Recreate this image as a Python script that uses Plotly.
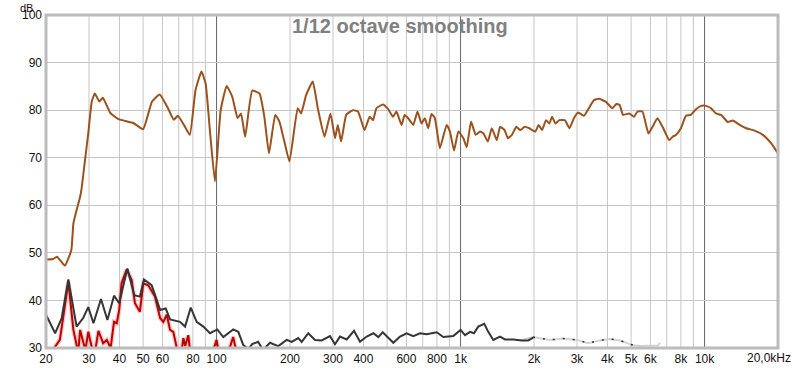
import plotly.graph_objects as go
import math

# ---- Data ----
brown_f = [20, 21.4, 22.2, 23.9, 25.4, 25.9, 26.7, 27.6, 28.0, 28.9, 29.8, 30.8, 31.7, 33.1, 34.2,
           36.7, 39.6, 45.6, 50.0, 54.4, 58.5, 62.8, 66.8, 69.4, 73.5, 77.7, 82.0, 86.7, 90.2, 94.0,
           98.5, 104, 110, 116, 122, 126, 131, 140, 150, 157, 164, 174, 181, 189, 199,
           215, 222, 233, 248, 260, 277, 293, 306, 314, 324, 340, 362, 380, 404, 424,
           438, 452, 481, 505, 529, 546, 573, 590, 610, 640, 666, 692, 714, 737, 760,
           785, 823, 877, 905, 940, 980, 1027, 1060, 1104, 1154, 1203, 1242, 1294, 1343, 1408,
           1452, 1515, 1563, 1624, 1692, 1757, 1831, 1912, 2025, 2090, 2158, 2240, 2312, 2371, 2448,
           2542, 2675, 2795, 2914, 3035, 3204, 3337, 3522, 3693, 3931, 4188, 4351, 4488, 4634, 4906,
           5141, 5308, 5564, 5888, 6118, 6413, 6726, 7168, 7396, 7630, 8000, 8388, 8792, 9224, 9672,
           10138, 10630, 11144, 11690, 12446, 13056, 13918, 14812, 16036, 17342, 18770, 20000]
brown_db = [48.6, 48.7, 49.2, 47.3, 50.6, 56.2, 59.0, 61.8, 63.6, 69.5, 75.1, 81.8, 83.5, 81.8, 82.6,
            79.4, 78.1, 77.3, 76.0, 81.8, 83.3, 80.7, 78.0, 78.8, 76.9, 74.8, 84.2, 88.1, 85.6, 75.5,
            65.0, 80.0, 85.1, 82.8, 78.3, 79.3, 74.4, 84.1, 83.5, 78.6, 70.9, 79.0, 77.6, 73.7, 69.2,
            80.4, 79.3, 83.2, 86.0, 80.4, 74.4, 79.3, 74.1, 76.9, 73.4, 79.0, 80.0, 79.7, 75.8, 78.6,
            77.9, 80.4, 81.2, 80.2, 78.6, 79.7, 76.9, 79.0, 78.3, 76.9, 79.7, 77.2, 78.3, 76.2, 79.2,
            78.3, 72.0, 76.9, 75.5, 71.5, 75.5, 74.1, 72.2, 77.6, 74.8, 75.5, 75.1, 73.4, 76.2, 73.7,
            76.5, 75.8, 74.1, 74.8, 76.5, 75.8, 76.5, 76.2, 75.5, 76.9, 75.8, 77.9, 77.2, 78.6, 77.2,
            77.9, 77.9, 76.2, 78.3, 79.5, 78.8, 80.2, 82.1, 82.4, 81.8, 80.4, 81.3, 81.1, 79.0, 79.3,
            78.6, 79.7, 79.7, 75.1, 76.5, 78.3, 76.5, 73.7, 74.4, 74.8, 76.2, 78.8, 79.0, 80.2, 80.9,
            80.9, 80.4, 79.3, 79.0, 77.5, 77.8, 76.9, 76.2, 75.7, 74.8, 73.0, 70.9]

black_f = [20, 21.8, 23.2, 24.7, 26.7, 28.4, 29.8, 31.3, 33.6, 35.7, 38.0, 39.9, 43.1, 46.0, 48.5,
           50.4, 54.2, 58.7, 61.9, 64.5, 70.8, 74.3, 78.4, 82.9, 88.3, 94.0, 100.7, 106.6, 117, 122.8,
           128.7, 135, 140, 148, 155, 165.6, 179, 193.9, 203.2, 216.2, 223.3, 237.7, 253.2, 269.8, 291.7,
           305.8, 320.5, 341.6, 365.9, 387.2, 412.5, 439.2, 460.2, 479.7, 530.3, 564.8, 601.6, 640.2, 681.9, 726.5,
           798.5, 849.8, 933.9, 1000, 1043, 1094, 1135, 1182, 1251, 1299, 1362, 1451, 1521, 1645, 1781,
           1894, 1986]
black_db = [37.0, 33.1, 36.3, 44.4, 34.5, 36.3, 38.6, 35.2, 40.3, 35.9, 41.0, 39.4, 46.7, 41.1, 40.8,
            44.4, 43.2, 38.0, 38.3, 36.0, 35.5, 34.5, 38.5, 35.5, 34.5, 33.1, 33.9, 32.3, 33.9, 33.4,
            30.6, 29.8, 30.8, 31.3, 29.6, 31.1, 30.4, 31.7, 31.3, 32.1, 31.3, 33.1, 31.7, 31.6, 32.5,
            30.8, 32.4, 31.8, 33.6, 31.3, 32.4, 33.1, 32.3, 33.3, 31.1, 32.4, 33.1, 32.5, 33.1, 32.9,
            33.3, 32.3, 32.5, 33.8, 32.7, 33.4, 33.1, 34.5, 35.1, 33.4, 31.7, 32.4, 31.8, 31.8, 31.6,
            31.6, 32.2]

red_f = [20, 21.2, 21.8, 22.8, 24.7, 25.9, 26.7, 27.1, 27.6, 28.4, 29.0, 29.8, 30.8, 31.5, 32.8,
         34.3, 35.5, 36.8, 38.0, 39.0, 39.9, 40.8, 42.8, 44.9, 46.3, 48.5, 50.1, 52.5, 55.9, 58.7,
         60.5, 62.5, 64.5, 66.5, 68.7, 71, 73.1, 74.4, 76.6, 78, 85, 95, 100, 103, 110,
         117, 122, 130]
red_db = [27, 28, 30.3, 31.7, 43.9, 33.8, 30.6, 29, 33.8, 31.3, 29.5, 33.4, 30.6, 28, 33.6,
          31.0, 31.7, 30.0, 35.5, 35.2, 38.0, 43.6, 46.5, 44.3, 39.4, 37.6, 43.6, 43.2, 40.8, 36.3,
          35.5, 37.0, 33.8, 33.4, 30.0, 27, 32.1, 30.4, 32.7, 29, 27, 28, 31.7, 28, 28,
          32.3, 28, 26]

gray_f = [1750, 1982, 2326, 2630, 3002, 3329, 3729, 4098, 4503, 4811, 5089, 5436, 5971, 6444, 6565]
gray_db = [31.6, 32.3, 31.7, 32.0, 31.7, 31.0, 31.6, 31.9, 31.6, 31.0, 30.6, 30.4, 30.4, 30.5, 31.1]

x_tickvals = [20, 30, 40, 50, 60, 80, 100, 200, 300, 400, 600, 800, 1000, 2000, 3000, 4000, 5000,
              6000, 8000, 10000]
x_ticktext = ["20", "30", "40", "50", "60", "80", "100", "200", "300", "400", "600", "800", "1k",
              "2k", "3k", "4k", "5k", "6k", "8k", "10k"]
x_grid = [20, 30, 40, 50, 60, 70, 80, 90, 100, 200, 300, 400, 500, 600, 700, 800, 900, 1000,
          2000, 3000, 4000, 5000, 6000, 7000, 8000, 9000, 10000]
major_grid = [100, 1000, 10000]
y_ticks = [30, 40, 50, 60, 70, 80, 90, 100]
title_text = "1/12 octave smoothing"
last_label = "20,0kHz"
y_unit = "dB"

FONT = "Liberation Sans, Arial, sans-serif"

fig = go.Figure()

# red halo + red
fig.add_trace(go.Scatter(x=red_f, y=red_db, mode="lines",
                         line=dict(color="rgba(235,160,160,0.55)", width=4.5), hoverinfo="skip"))
fig.add_trace(go.Scatter(x=red_f, y=red_db, mode="lines",
                         line=dict(color="#c00000", width=2)))
# gray tail + black
fig.add_trace(go.Scatter(x=gray_f, y=gray_db, mode="lines",
                         line=dict(color="#d2d2d2", width=2)))
fig.add_trace(go.Scatter(x=gray_f[1:11], y=gray_db[1:11], mode="lines",
                         line=dict(color="#333333", width=1.5, dash="2px,8px")))
fig.add_trace(go.Scatter(x=black_f, y=black_db, mode="lines",
                         line=dict(color="#363636", width=2)))
# brown
fig.add_trace(go.Scatter(x=brown_f, y=brown_db, mode="lines",
                         line=dict(color="#9b521e", width=2, shape="spline", smoothing=0.4)))

shapes = []
for v in x_grid:
    shapes.append(dict(type="line", xref="x", yref="paper", x0=v, x1=v, y0=0, y1=1,
                       line=dict(color="#666666" if v in major_grid else "#c6c6c6", width=1),
                       layer="below"))
# frame
shapes.append(dict(type="rect", xref="paper", yref="paper", x0=0, x1=1, y0=0, y1=1,
                   line=dict(color="#bcbcbc", width=3), layer="above"))

fig.update_layout(
    width=800, height=368,
    margin=dict(l=46, r=22, t=15, b=20, autoexpand=False),
    paper_bgcolor="white", plot_bgcolor="white",
    showlegend=False,
    shapes=shapes,
    font=dict(family=FONT, size=12, color="#111111"),
    annotations=[
        dict(text=f"<b>{title_text}</b>", xref="paper", yref="paper", x=0.483, y=0.967,
             xanchor="center", yanchor="middle", showarrow=False,
             font=dict(family=FONT, size=20, color="#808080")),
        dict(text=y_unit, xref="paper", yref="paper", x=-0.026, y=1.045,
             xanchor="center", yanchor="top", showarrow=False,
             font=dict(family=FONT, size=11, color="#111111")),
        dict(text=last_label, xref="paper", yref="paper", x=1.0205, y=-0.03,
             xanchor="right", yanchor="middle", showarrow=False,
             font=dict(family=FONT, size=12, color="#111111")),
    ],
)
fig.update_xaxes(type="log", range=[math.log10(20), math.log10(20000)], automargin=False,
                 tickvals=x_tickvals, ticktext=x_ticktext, showgrid=False, zeroline=False,
                 showline=False, ticks="", tickfont=dict(size=12), ticklabelstandoff=2)
fig.update_yaxes(range=[30, 100], tickvals=y_ticks, showgrid=True, gridcolor="#c6c6c6",
                 automargin=False, zeroline=False, showline=False, ticks="", tickfont=dict(size=12),
                 ticklabelstandoff=3)

fig.write_html("out.html", config={"displayModeBar": False},
               post_script="document.body.style.margin='0';")
